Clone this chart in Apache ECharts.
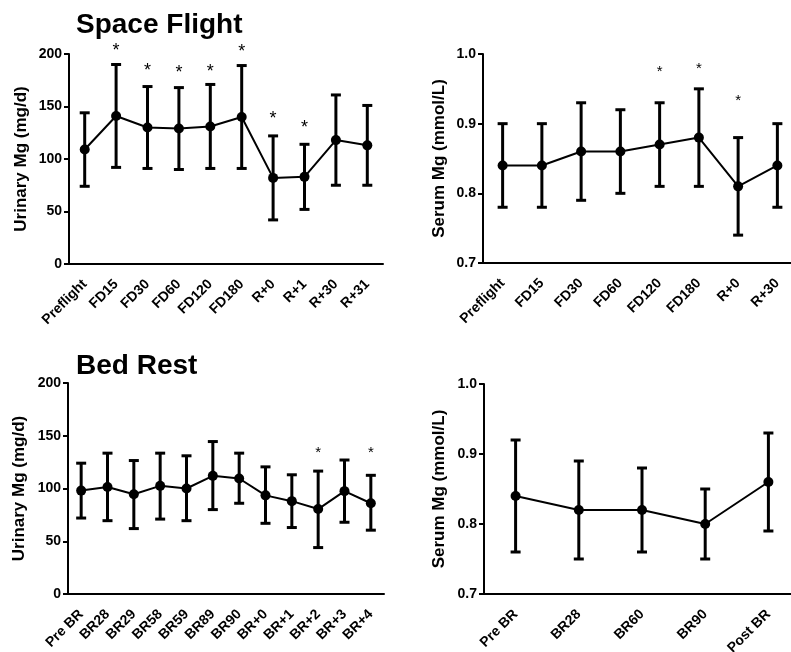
<!DOCTYPE html>
<html>
<head>
<meta charset="utf-8">
<script src="https://cdn.jsdelivr.net/npm/echarts@6/dist/echarts.min.js"></script>
<style>
html,body{margin:0;padding:0;background:#fff;}
#chart{width:791px;height:652px;}
</style>
</head>
<body>
<div id="chart"></div>
<script>
// ---------- DATA ----------
const flightCats = ['Preflight','FD15','FD30','FD60','FD120','FD180','R+0','R+1','R+30','R+31'];
const flightUrineMean = [109, 141, 130, 129, 131, 140, 82, 83, 118, 113];
const flightUrineLow  = [74, 92, 91, 90, 91, 91, 42, 52, 75, 75];
const flightUrineHigh = [144, 190, 169, 168, 171, 189, 122, 114, 161, 151];
const flightUrineStar = [null, 207, 188, 186, 187, 206, 142, 133, null, null];

const flightSerumCats = ['Preflight','FD15','FD30','FD60','FD120','FD180','R+0','R+30'];
const flightSerumMean = [0.84, 0.84, 0.86, 0.86, 0.87, 0.88, 0.81, 0.84];
const flightSerumLow  = [0.78, 0.78, 0.79, 0.80, 0.81, 0.81, 0.74, 0.78];
const flightSerumHigh = [0.90, 0.90, 0.93, 0.92, 0.93, 0.95, 0.88, 0.90];
const flightSerumStar = [null, null, null, null, 0.979, 0.984, 0.938, null];

const bedCats = ['Pre BR','BR28','BR29','BR58','BR59','BR89','BR90','BR+0','BR+1','BR+2','BR+3','BR+4'];
const bedUrineMean = [98, 101.5, 94.5, 102.5, 100, 112, 109.5, 93.5, 88, 80.5, 97.5, 86];
const bedUrineLow  = [72, 69.5, 62, 71, 69.5, 80, 86, 67, 63, 44, 68, 60.5];
const bedUrineHigh = [124, 133.5, 126.5, 133.5, 131, 144.5, 133.5, 120.5, 113, 116.5, 127, 112.5];
const bedUrineStar = [null, null, null, null, null, null, null, null, null, 137, null, 137];

const bedSerumCats = ['Pre BR','BR28','BR60','BR90','Post BR'];
const bedSerumMean = [0.84, 0.82, 0.82, 0.80, 0.86];
const bedSerumLow  = [0.76, 0.75, 0.76, 0.75, 0.79];
const bedSerumHigh = [0.92, 0.89, 0.88, 0.85, 0.93];

const urineTicks = {min: 0, max: 200, interval: 50};
const serumTicks = {min: 0.7, max: 1.0, interval: 0.1};

const titles = ['Space Flight', 'Bed Rest'];
const urineName = 'Urinary Mg (mg/d)';
const serumName = 'Serum Mg (mmol/L)';

// ---------- STYLE / LAYOUT ----------
const FONT = '"Liberation Sans", Arial, Helvetica, sans-serif';
const grids = [
  {left: 69, top: 54, width: 314, height: 210, outerBoundsMode: 'none', containLabel: false},
  {left: 483, top: 54, width: 314, height: 209, outerBoundsMode: 'none', containLabel: false},
  {left: 68, top: 383, width: 316, height: 211, outerBoundsMode: 'none', containLabel: false},
  {left: 484, top: 384, width: 316, height: 210, outerBoundsMode: 'none', containLabel: false}
];

function xAxis(gi, cats) {
  return {
    gridIndex: gi, type: 'category', data: cats, boundaryGap: true,
    axisLine: {lineStyle: {color: '#000', width: 2}},
    axisTick: {alignWithLabel: true, length: 5, lineStyle: {color: '#000', width: 2}},
    axisLabel: {interval: 0, rotate: 45, margin: 18, color: '#000', fontSize: 14,
                fontWeight: 'bold', fontFamily: FONT},
    splitLine: {show: false}
  };
}
function yAxis(gi, ticks, name, gap, fmt) {
  return {
    gridIndex: gi, type: 'value', min: ticks.min, max: ticks.max, interval: ticks.interval,
    name: name, nameLocation: 'middle', nameGap: gap, nameRotate: 90,
    nameTextStyle: {color: '#000', fontSize: 17, fontWeight: 'bold', fontFamily: FONT},
    axisLine: {show: true, lineStyle: {color: '#000', width: 2}},
    axisTick: {show: true, length: 5, lineStyle: {color: '#000', width: 2}},
    axisLabel: {margin: 7, color: '#000', fontSize: 14, fontWeight: 'bold', fontFamily: FONT,
                formatter: fmt},
    splitLine: {show: false}
  };
}

function errRender(params, api) {
  const i = api.value(0), lo = api.value(1), hi = api.value(2);
  const pHi = api.coord([i, hi]);
  const pLo = api.coord([i, lo]);
  const w = 5;
  const st = {stroke: '#000', lineWidth: 3};
  return {type: 'group', children: [
    {type: 'line', shape: {x1: pHi[0], y1: pHi[1], x2: pLo[0], y2: pLo[1]}, style: st},
    {type: 'line', shape: {x1: pHi[0] - w, y1: pHi[1], x2: pHi[0] + w, y2: pHi[1]}, style: st},
    {type: 'line', shape: {x1: pLo[0] - w, y1: pLo[1], x2: pLo[0] + w, y2: pLo[1]}, style: st}
  ]};
}
function starRender(size) {
  return function (params, api) {
    const p = api.coord([api.value(0), api.value(1)]);
    return {type: 'text', x: p[0], y: p[1] + size * 0.23,
      style: {text: '*', fill: '#000', font: 'normal ' + size + 'px ' + FONT,
              align: 'center', verticalAlign: 'middle'}};
  };
}

function errData(lo, hi) { return lo.map((v, i) => [i, v, hi[i]]); }
function starData(arr) {
  const out = [];
  arr.forEach((v, i) => { if (v !== null) out.push([i, v]); });
  return out;
}

function panelSeries(gi, mean, lo, hi, stars, starSize) {
  const s = [
    {type: 'custom', xAxisIndex: gi, yAxisIndex: gi, renderItem: errRender,
     data: errData(lo, hi), z: 2, clip: false, silent: true},
    {type: 'line', xAxisIndex: gi, yAxisIndex: gi, data: mean, symbol: 'circle',
     symbolSize: 10, showSymbol: true, itemStyle: {color: '#000'},
     lineStyle: {color: '#000', width: 2}, z: 3, animation: false}
  ];
  if (stars) {
    s.push({type: 'custom', xAxisIndex: gi, yAxisIndex: gi, renderItem: starRender(starSize),
            data: starData(stars), z: 4, clip: false, silent: true});
  }
  return s;
}

const fmtInt = v => String(v);
const fmt1 = v => v.toFixed(1);

const option = {
  animation: false,
  backgroundColor: '#fff',
  title: [
    {text: titles[0], left: 76, top: 11, padding: 0, textStyle: {fontSize: 28, fontWeight: 'bold', color: '#000', fontFamily: FONT}},
    {text: titles[1], left: 76, top: 352, padding: 0, textStyle: {fontSize: 28, fontWeight: 'bold', color: '#000', fontFamily: FONT}}
  ],
  grid: grids,
  xAxis: [xAxis(0, flightCats), xAxis(1, flightSerumCats), xAxis(2, bedCats), xAxis(3, bedSerumCats)],
  yAxis: [
    yAxis(0, urineTicks, urineName, 39, fmtInt),
    yAxis(1, serumTicks, serumName, 35, fmt1),
    yAxis(2, urineTicks, urineName, 40, fmtInt),
    yAxis(3, serumTicks, serumName, 36, fmt1)
  ],
  series: [].concat(
    panelSeries(0, flightUrineMean, flightUrineLow, flightUrineHigh, flightUrineStar, 18),
    panelSeries(1, flightSerumMean, flightSerumLow, flightSerumHigh, flightSerumStar, 15),
    panelSeries(2, bedUrineMean, bedUrineLow, bedUrineHigh, bedUrineStar, 15),
    panelSeries(3, bedSerumMean, bedSerumLow, bedSerumHigh, null, 15)
  )
};

const chart = echarts.init(document.getElementById('chart'), null, {renderer: 'canvas'});
chart.setOption(option);
</script>
</body>
</html>
